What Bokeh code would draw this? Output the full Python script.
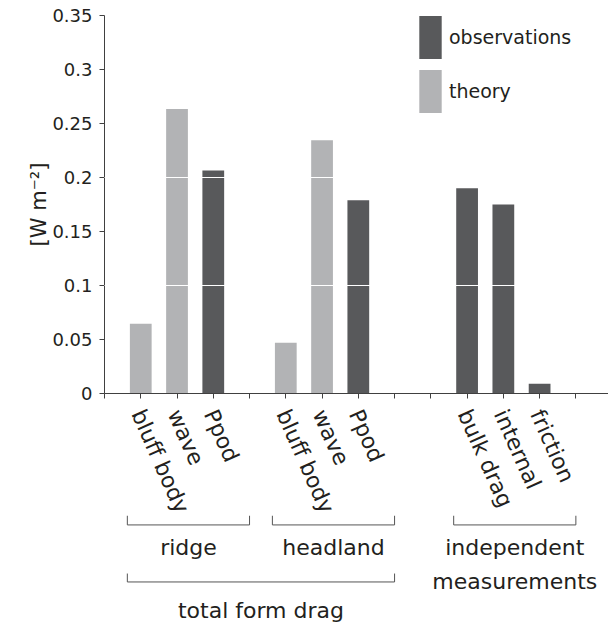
from bokeh.plotting import figure
from bokeh.layouts import column
from bokeh.models import ColumnDataSource, Range1d, FixedTicker
from bokeh.core.properties import value
from bokeh.embed import file_html
from bokeh.resources import INLINE

# Form drag / dissipation estimates [W m^-2]
categories = ["bluff body", "wave", "Ppod",
              "bluff body", "wave", "Ppod",
              "bulk drag", "internal", "friction"]
values = [0.0645, 0.2635, 0.2065,
          0.047, 0.2345, 0.179,
          0.190, 0.175, 0.009]
kinds = ["theory", "theory", "observations",
         "theory", "theory", "observations",
         "observations", "observations", "observations"]

groups = ["ridge", "headland", "independent\nmeasurements"]
group_sizes = [3, 3, 3]
group_gaps = [0, 1, 2]          # empty slots before each group
super_group = "total form drag"  # spans the first two groups
super_members = [0, 1]

yticks = [0, 0.05, 0.1, 0.15, 0.2, 0.25, 0.3, 0.35]
ytick_labels = ["0", "0.05", "0.1", "0.15", "0.2", "0.25", "0.3", "0.35"]
grid_ticks = [0.1, 0.2]
y_label = "[W m\u207b\u00b2]"

FONT = "DejaVu Sans"
TEXT = "#231f20"
AXIS = "#404040"
COLORS = {"observations": "#58595b", "theory": "#b2b3b5"}

# slot positions along x
positions, spans = [], []
pos = 0
for n, gap in zip(group_sizes, group_gaps):
    pos += gap
    first = pos + 1
    for _ in range(n):
        pos += 1
        positions.append(pos)
    spans.append((first, pos))
xticks = list(range(0, pos + 2))

W = 608
LEFT = 104
TOP_H = 403        # bar panel: 15 top border + 378 frame + 10 axis strip
BOT_H = 625 - TOP_H
PX_PER_Y = 378 / 0.35

x_range = Range1d(0, 13.9)

# ---- bar chart -------------------------------------------------------------
p = figure(width=W, height=TOP_H, output_backend="svg", toolbar_location=None,
           x_range=x_range, y_range=Range1d(0, 0.35),
           min_border_left=LEFT, min_border_top=15, min_border_right=0,
           min_border_bottom=10)
p.outline_line_color = None
p.xgrid.visible = False

for kind in ["observations", "theory"]:
    idx = [i for i, k in enumerate(kinds) if k == kind]
    src = ColumnDataSource(dict(x=[positions[i] for i in idx],
                                top=[values[i] for i in idx]))
    p.vbar(x="x", top="top", bottom=0, width=0.6, source=src,
           fill_color=COLORS[kind], line_color=None, legend_label=kind)

ay = p.yaxis[0]
ay.ticker = FixedTicker(ticks=yticks)
ay.major_label_overrides = {t: s for t, s in zip(yticks, ytick_labels)}
ay.major_label_standoff = 7
ay.major_label_text_font = FONT
ay.major_label_text_font_size = "18px"
ay.major_label_text_color = TEXT
ay.axis_label = y_label
ay.axis_label_standoff = -2
ay.axis_label_text_font = FONT
ay.axis_label_text_font_size = "21px"
ay.axis_label_text_font_style = "normal"
ay.axis_label_text_color = TEXT

ax = p.xaxis[0]
ax.ticker = FixedTicker(ticks=xticks)
ax.major_label_overrides = {t: "" for t in xticks}
ax.major_label_text_font_size = "1px"
ax.major_label_standoff = 0

for a in (ax, ay):
    a.axis_line_color = AXIS
    a.major_tick_line_color = AXIS
    a.major_tick_out = 5
    a.major_tick_in = 0
    a.minor_tick_line_color = None

# white grid lines cut across the bars
p.ygrid.ticker = FixedTicker(ticks=grid_ticks)
p.ygrid.grid_line_color = "white"
p.ygrid.grid_line_width = 1
p.ygrid.level = "annotation"

lg = p.legend[0]
lg.location = (312, 275)
lg.padding = 0
lg.margin = 0
lg.spacing = 0
lg.glyph_width = 28
lg.glyph_height = 54
lg.label_standoff = 5
lg.border_line_color = None
lg.background_fill_alpha = 0
lg.label_text_font = FONT
lg.label_text_font_size = "19px"
lg.label_text_color = TEXT

# ---- category labels and group brackets ------------------------------------
y_top = -(TOP_H - 15 - 378) / PX_PER_Y
y_bot = y_top - BOT_H / PX_PER_Y
q = figure(width=W, height=BOT_H, output_backend="svg", toolbar_location=None,
           x_range=x_range, y_range=Range1d(y_bot, y_top),
           x_axis_location=None, y_axis_location=None,
           min_border_left=LEFT, min_border_top=0, min_border_right=0,
           min_border_bottom=0)
q.outline_line_color = None
q.grid.visible = False

q.text(x=[x - 0.08 for x in positions], y=[-0.016] * len(positions), text=categories,
       angle=-66, angle_units="deg", text_align="left", text_baseline="middle",
       text_font=value(FONT), text_font_size="22px", text_color=TEXT)

def bracket(x0, x1, y, h):
    return [x0, x0, x1, x1], [y + h, y, y, y + h]

br_xs, br_ys, glab_x = [], [], []
for a, b in spans:
    xs, ys = bracket(a - 0.37, b + 1.0, -0.1217, 0.0085)
    br_xs.append(xs); br_ys.append(ys)
    glab_x.append((a - 0.37 + b + 1.0) / 2)
sa, sb = spans[super_members[0]][0], spans[super_members[-1]][1]
xs, ys = bracket(sa - 0.37, sb + 1.0, -0.1745, 0.0078)
br_xs.append(xs); br_ys.append(ys)
q.multi_line(xs=br_xs, ys=br_ys, line_color="#555555", line_width=1)

q.text(x=glab_x, y=[-0.131] * len(groups), text=groups,
       text_align="center", text_baseline="top", text_line_height=1.36,
       text_font=value(FONT), text_font_size="22px", text_color=TEXT)
q.text(x=[(sa - 0.37 + sb + 1.0) / 2], y=[-0.1895], text=[super_group],
       text_align="center", text_baseline="top",
       text_font=value(FONT), text_font_size="22px", text_color=TEXT)

layout = column(p, q, spacing=0)
open("out.html", "w").write(file_html(layout, INLINE))
